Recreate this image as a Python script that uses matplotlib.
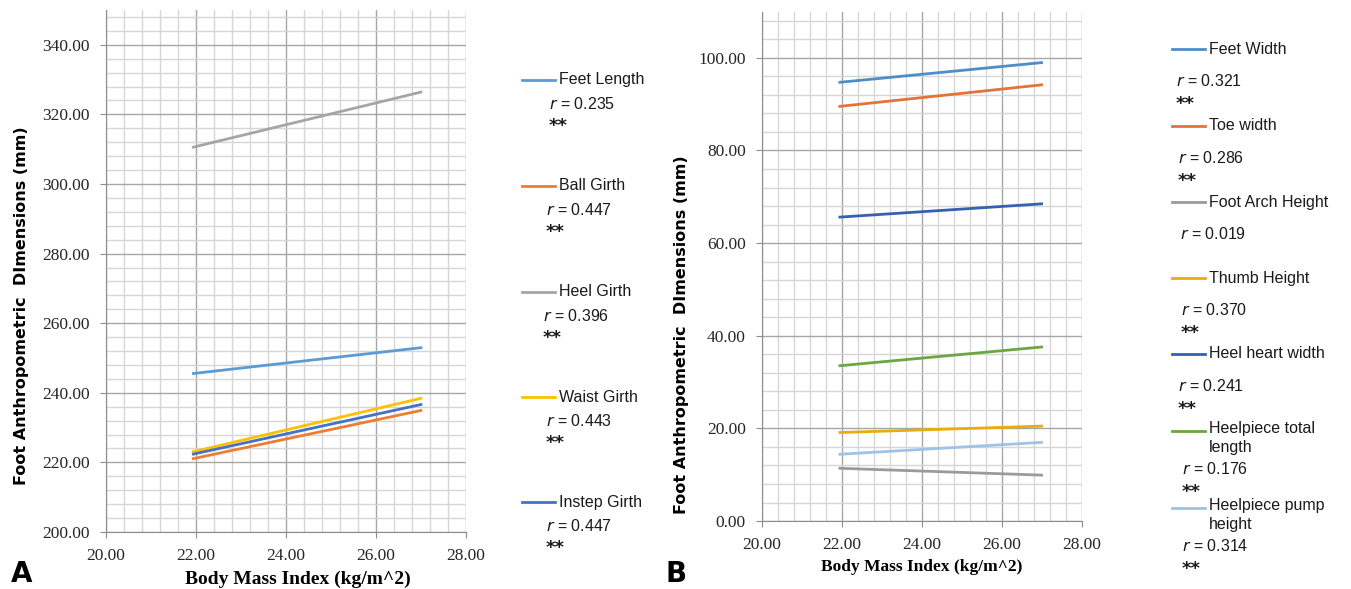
import matplotlib
matplotlib.use("Agg")
import matplotlib.pyplot as plt
from matplotlib.ticker import MultipleLocator, FormatStrFormatter
from matplotlib.lines import Line2D

# BMI range of the fitted lines
bmi = [21.92, 27.03]

# panel A : girths / length (mm) at the two BMI ends
names_a = ["Feet Length", "Ball Girth", "Heel Girth", "Waist Girth", "Instep Girth"]
vals_a = [[245.5, 253.0], [221.0, 235.0], [310.5, 326.5], [223.0, 238.5], [222.3, 236.7]]
r_a = ["0.235", "0.447", "0.396", "0.443", "0.447"]
sig_a = ["**", "**", "**", "**", "**"]
cols_a = ["#5B9BD5", "#ED7D31", "#A5A5A5", "#FFC000", "#4472C4"]

# panel B : widths / heights (mm)
names_b = ["Feet Width", "Toe width", "Foot Arch Height", "Thumb Height",
           "Heel heart width", "Heelpiece total\nlength", "Heelpiece pump\nheight"]
vals_b = [[94.7, 99.0], [89.5, 94.2], [11.4, 9.9], [19.1, 20.5],
          [65.6, 68.5], [33.5, 37.6], [14.4, 17.0]]
r_b = ["0.321", "0.286", "0.019", "0.370", "0.241", "0.176", "0.314"]
sig_b = ["**", "**", "", "**", "**", "**", "**"]
cols_b = ["#4F8DC9", "#E2733A", "#9A9A9A", "#E8AC0C", "#3461B0", "#6AA642", "#9DC3E6"]

fig = plt.figure(figsize=(13.51, 5.89), dpi=100)

def setup(ax, ylo, yhi, xl_size, xl_pos, yl_pos):
    ax.set_xlim(20, 28)
    ax.set_ylim(ylo, yhi)
    ax.xaxis.set_major_locator(MultipleLocator(2))
    ax.xaxis.set_minor_locator(MultipleLocator(0.4))
    ax.yaxis.set_major_locator(MultipleLocator(20))
    ax.yaxis.set_minor_locator(MultipleLocator(4))
    ax.xaxis.set_major_formatter(FormatStrFormatter("%.2f"))
    ax.yaxis.set_major_formatter(FormatStrFormatter("%.2f"))
    ax.grid(which="major", color="#A6A6A6", lw=1.0)
    ax.grid(which="minor", color="#D6D6D6", lw=1.0)
    ax.set_axisbelow(True)
    for s in ["top", "right"]:
        ax.spines[s].set_visible(False)
    for s in ["left", "bottom"]:
        ax.spines[s].set_color("#8C8C8C")
    ax.tick_params(which="major", length=4.5, color="#8C8C8C", labelsize=12.5, pad=7)
    ax.tick_params(which="minor", length=0)
    for lab in ax.get_xticklabels() + ax.get_yticklabels():
        lab.set_fontfamily("Liberation Serif")
        lab.set_color("#262626")
    xl = ax.set_xlabel("Body Mass Index (kg/m^2)", family="Liberation Serif",
                       fontweight="bold", fontsize=xl_size, va="center")
    ax.xaxis.set_label_coords(*xl_pos)
    ax.set_ylabel("Foot Anthropometric  DImensions (mm)", family="DejaVu Sans",
                  fontweight="bold", fontsize=11.5, va="center")
    ax.yaxis.set_label_coords(*yl_pos)

axA = fig.add_axes([0.0781, 0.0968, 0.2668, 0.8862])
for v, c in zip(vals_a, cols_a):
    axA.plot(bmi, v, color=c, lw=2.0, solid_capstyle="butt")
setup(axA, 200, 350, 14, (0.533, -0.090), (-0.232, 0.433))

axB = fig.add_axes([0.5638, 0.1154, 0.2369, 0.865])
for v, c in zip(vals_b, cols_b):
    axB.plot(bmi, v, color=c, lw=2.0, solid_capstyle="butt")
setup(axB, 0, 110, 12.5, (0.501, -0.090), (-0.252, 0.365))

def px(x, y):
    return x / 1351, 1 - y / 589

def legend(names, rs, sigs, cols, lx, name_y, r_dy, r_x, star_dy, wrap_dy=0):
    for i, (n, r, s, c) in enumerate(zip(names, rs, sigs, cols)):
        y0 = name_y[i]
        x0, yy = px(lx, y0)
        x1, _ = px(lx + 33, y0)
        fig.add_artist(Line2D([x0, x1], [yy, yy], color=c, lw=2.0,
                              transform=fig.transFigure))
        if "\n" in n:
            fig.text(*px(lx + 37, y0 - 10), n, fontsize=11.5, family="Liberation Sans",
                     va="top", ha="left", linespacing=1.3, color="#1A1A1A")
        else:
            fig.text(*px(lx + 37, y0), n, fontsize=11.5, family="Liberation Sans",
                     va="center", ha="left", color="#1A1A1A")
        extra = wrap_dy if "\n" in n else 0
        fig.text(*px(r_x[i], y0 + r_dy + extra), r"$\it{r}$ = " + r, fontsize=11.5,
                 family="Liberation Sans", va="center", color="#1A1A1A")
        if s:
            fig.text(*px(r_x[i], y0 + r_dy + extra + star_dy + 2), s, fontsize=13,
                     family="DejaVu Sans", fontweight="bold", va="center",
                     color="#1A1A1A")

legend(names_a, r_a, sig_a, cols_a, 522, [80, 186, 292, 397, 502], 24,
       [549, 546, 543, 546, 546], 20)
legend(names_b, r_b, sig_b, cols_b, 1172, [49, 126, 202, 278, 354, 431, 508], 32,
       [1176, 1178, 1180, 1181, 1178, 1182, 1182], 21, wrap_dy=6)

fig.text(*px(11, 588), "A", fontsize=20, fontweight="bold", family="DejaVu Sans",
         va="bottom")
fig.text(*px(665, 588), "B", fontsize=20, fontweight="bold", family="DejaVu Sans",
         va="bottom")

fig.savefig("out.png", dpi=100, facecolor="white")
